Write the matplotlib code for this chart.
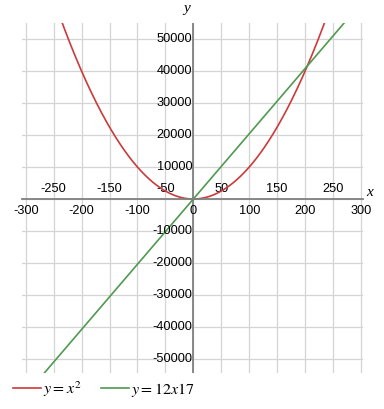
import numpy as np
import matplotlib
matplotlib.use("Agg")
import matplotlib.pyplot as plt
from matplotlib.ticker import FixedLocator, FixedFormatter

plt.rcParams["font.family"] = ["Liberation Sans", "DejaVu Sans"]
plt.rcParams["mathtext.fontset"] = "stix"

# functions shown in the chart
curve_labels = ["$y = x^2$", "$y = 12x17$"]
curve_colors = ["#cc3a3a", "#4f9a4f"]
slope = 12 * 17
x_samples = np.linspace(-300, 300, 1201)
y_square = x_samples ** 2
y_line = slope * x_samples

x_major = [-300, -200, -100, 0, 100, 200, 300]
x_minor = [-250, -150, -50, 50, 150, 250]
y_ticks = [-50000, -40000, -30000, -20000, -10000,
           10000, 20000, 30000, 40000, 50000]

fig = plt.figure(figsize=(3.84, 4.09), dpi=100)
ax = fig.add_axes([22 / 384, 1 - 373 / 409, 341 / 384, 350 / 409])

ax.plot(x_samples, y_square, color=curve_colors[0], lw=1.2, label=curve_labels[0])
ax.plot(x_samples, y_line, color=curve_colors[1], lw=1.2, label=curve_labels[1])

ax.set_xlim(-306.6, 303.6)
ax.set_ylim(-54400, 55040)

# grid
for gx in x_major + x_minor:
    ax.axvline(gx, color="#d4d4d4", lw=0.9, zorder=0)
for gy in y_ticks + [0]:
    ax.axhline(gy, color="#d4d4d4", lw=0.9, zorder=0)

for side in ["left", "right"]:
    ax.spines[side].set_visible(False)
ax.spines["bottom"].set_position(("data", 0))
ax.spines["top"].set_position(("data", 0))
ax.spines["bottom"].set_color("#808080")
ax.spines["top"].set_visible(False)
ax.spines["bottom"].set_linewidth(1.3)
ax.axvline(0, color="#808080", lw=1.3, zorder=1)

ax.xaxis.set_major_locator(FixedLocator(x_major))
ax.xaxis.set_major_formatter(FixedFormatter([str(v) for v in x_major]))
ax.xaxis.set_minor_locator(FixedLocator(x_minor))
ax.xaxis.set_minor_formatter(FixedFormatter([str(v) for v in x_minor]))
ax.tick_params(axis="x", which="major", bottom=False, top=False,
               labelbottom=True, labeltop=False, pad=1, labelsize=9.2)
ax.tick_params(axis="x", which="minor", bottom=False, top=False,
               labelbottom=False, labeltop=True, pad=1, labelsize=9.2)

ax.set_yticks([])
for v in y_ticks:
    ax.text(-2, v, str(v), ha="right", va="center", fontsize=9.2)

ax.annotate("y", xy=(0, 1), xycoords=("data", "axes fraction"),
            xytext=(-5, 6), textcoords="offset points", family="Liberation Serif",
            fontsize=11, style="italic", ha="center", va="bottom")
ax.annotate("x", xy=(1, 0), xycoords=("axes fraction", "data"),
            xytext=(5, 0), textcoords="offset points", family="Liberation Serif",
            fontsize=11, style="italic", ha="center", va="bottom")

fig.legend(loc="center left", bbox_to_anchor=(0.017, 0.049), ncol=2,
           frameon=False, fontsize=11.5, handlelength=1.75, handletextpad=0.15,
           columnspacing=1.2, borderaxespad=0)

fig.savefig("out.png", dpi=100)
